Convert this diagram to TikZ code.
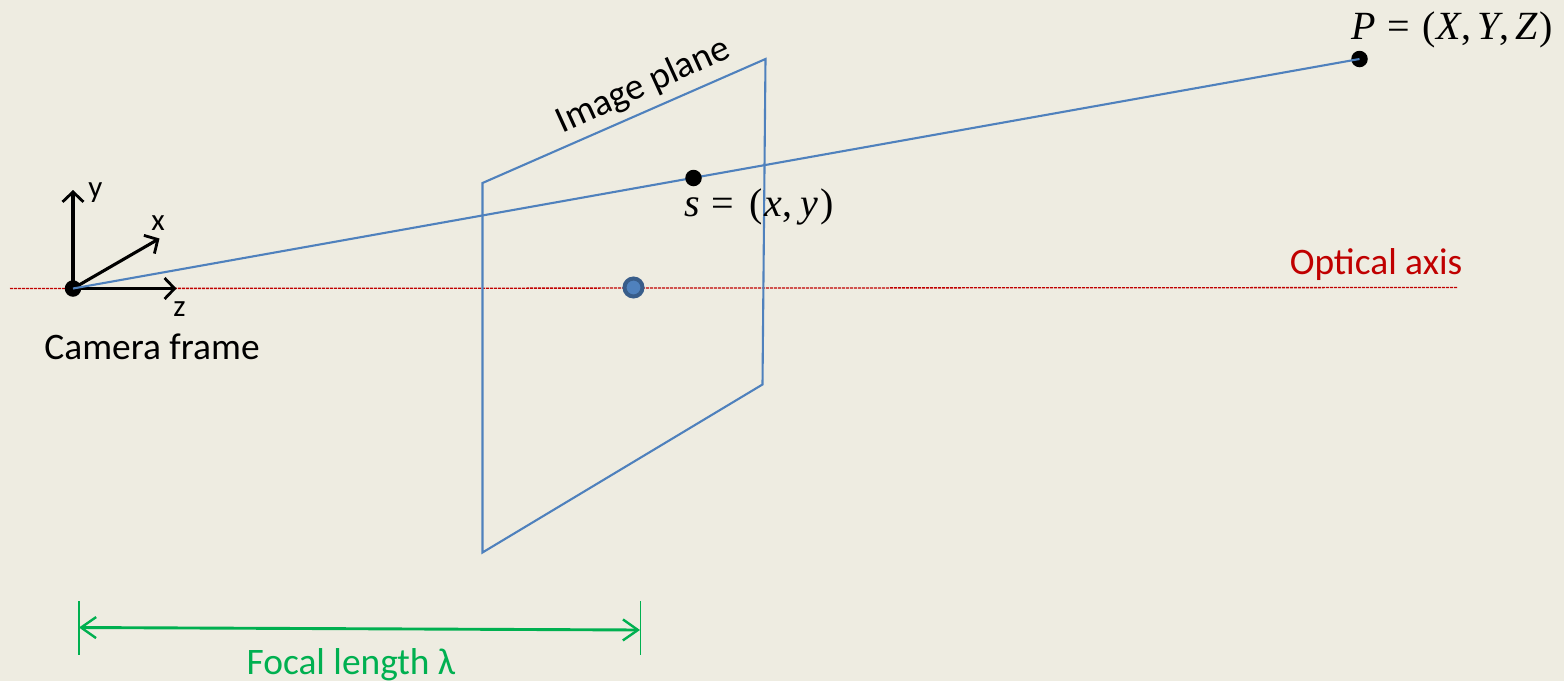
\documentclass[tikz,border=0pt]{standalone}
\usepackage{fontspec}
\setmainfont{Carlito}
\newfontfamily\mathish{Liberation Serif}
\usetikzlibrary{arrows.meta}
\definecolor{bgc}{HTML}{EEECE1}
\definecolor{planeblue}{HTML}{4F81BD}
\definecolor{darkblue}{HTML}{385D8A}
\definecolor{axisred}{HTML}{C00000}
\definecolor{focalgreen}{HTML}{00B050}
\tikzset{
  pt/.style={circle,fill=black,inner sep=0pt,minimum size=16.5pt},
  lbl/.style={inner sep=0pt,font=\fontsize{37.4}{40}\selectfont},
  smalllbl/.style={inner sep=0pt,font=\fontsize{31}{33}\selectfont},
  mathlbl/.style={inner sep=0pt,font=\fontsize{40}{43}\selectfont\mathish},
  ray/.style={planeblue,line width=2.1pt},
  axisline/.style={axisred,line width=1.3pt,dash pattern=on 3pt off 1pt},
  frameaxis/.style={black,line width=3.1pt,-{Straight Barb[length=10pt,width=21pt,line width=2.8pt]}},
  focal/.style={focalgreen,line width=2.9pt,{Straight Barb[length=15pt,width=21pt,line width=2.4pt]}-{Straight Barb[length=15pt,width=21pt,line width=2.4pt]}},
  tick/.style={focalgreen,line width=1.9pt}
}
\begin{document}
\begin{tikzpicture}[x=1pt,y=-1pt]
\useasboundingbox (0,0) rectangle (1564,681);
\fill[bgc] (0,0) rectangle (1564,681);
\coordinate (pa) at (482.5,183);
\coordinate (pb) at (765.5,59);
\coordinate (pc) at (762.5,384.5);
\coordinate (pd) at (482.5,552.5);
\coordinate (axl) at (10,288.5);
\coordinate (axr) at (1458,287.5);
\coordinate (origin) at (73,288.5);
\coordinate (ytip) at (73,190);
\coordinate (xtip) at (159.5,238.5);
\coordinate (ztip) at (176.5,288.5);
\coordinate (fl) at (79,627.5);
\coordinate (fr) at (640,630);
\coordinate (fla) at (79,601);
\coordinate (flb) at (79,655);
\coordinate (fra) at (640.5,601);
\coordinate (frb) at (640.5,655);
\coordinate (worldc) at (1359.5,59);
% axis and frame
\draw[axisline] (axl) -- (axr);
\draw[frameaxis] (origin) -- (ytip);
\draw[frameaxis] (origin) -- (xtip);
\draw[frameaxis] (origin) -- (ztip);
% points
\node[pt] (cam) at (origin) {};
\node[pt] (world) at (worldc) {};
\node[circle,fill=planeblue,draw=darkblue,line width=4pt,inner sep=0pt,minimum size=18pt] (ctr) at (633.5,287.5) {};
% plane and ray
\draw[ray] (pa) -- (pb) -- (pc) -- (pd) -- cycle;
\draw[ray] (origin) -- (worldc);
\node[pt] (img) at (693.5,178) {};
% focal
\draw[focal] (fl) -- (fr);
\draw[tick] (fla) -- (flb);
\draw[tick] (fra) -- (frb);
% labels
\node[smalllbl,anchor=base] (ylab) at (95.5,197) {y};
\node[smalllbl,anchor=base] (xlab) at (158,230) {x};
\node[smalllbl,anchor=base] (zlab) at (179.5,316) {z};
\node[lbl,anchor=base] (camlab) at (152,359) {Camera frame};
\node[lbl,anchor=base,rotate=24.5] (implab) at (647.5,95) {Image plane};
\node[lbl,anchor=base,text=axisred] (optlab) at (1376,274) {Optical axis};
\node[lbl,anchor=base,text=focalgreen] (foclab) at (351,674) {Focal length λ};
\node[mathlbl,anchor=base] (slab) at (759,216) {\textit{s}\hspace{12pt}=\hspace{15pt}(\hspace{2pt}\textit{x},\hspace{8pt}\textit{y}\hspace{2pt})};
\node[mathlbl,anchor=base] (plab) at (1452,39) {\textit{P}\hspace{11pt}=\hspace{13pt}(\hspace{1pt}\textit{X},\hspace{6pt}\textit{Y},\hspace{6pt}\textit{Z}\hspace{1pt})};
\end{tikzpicture}
\end{document}
